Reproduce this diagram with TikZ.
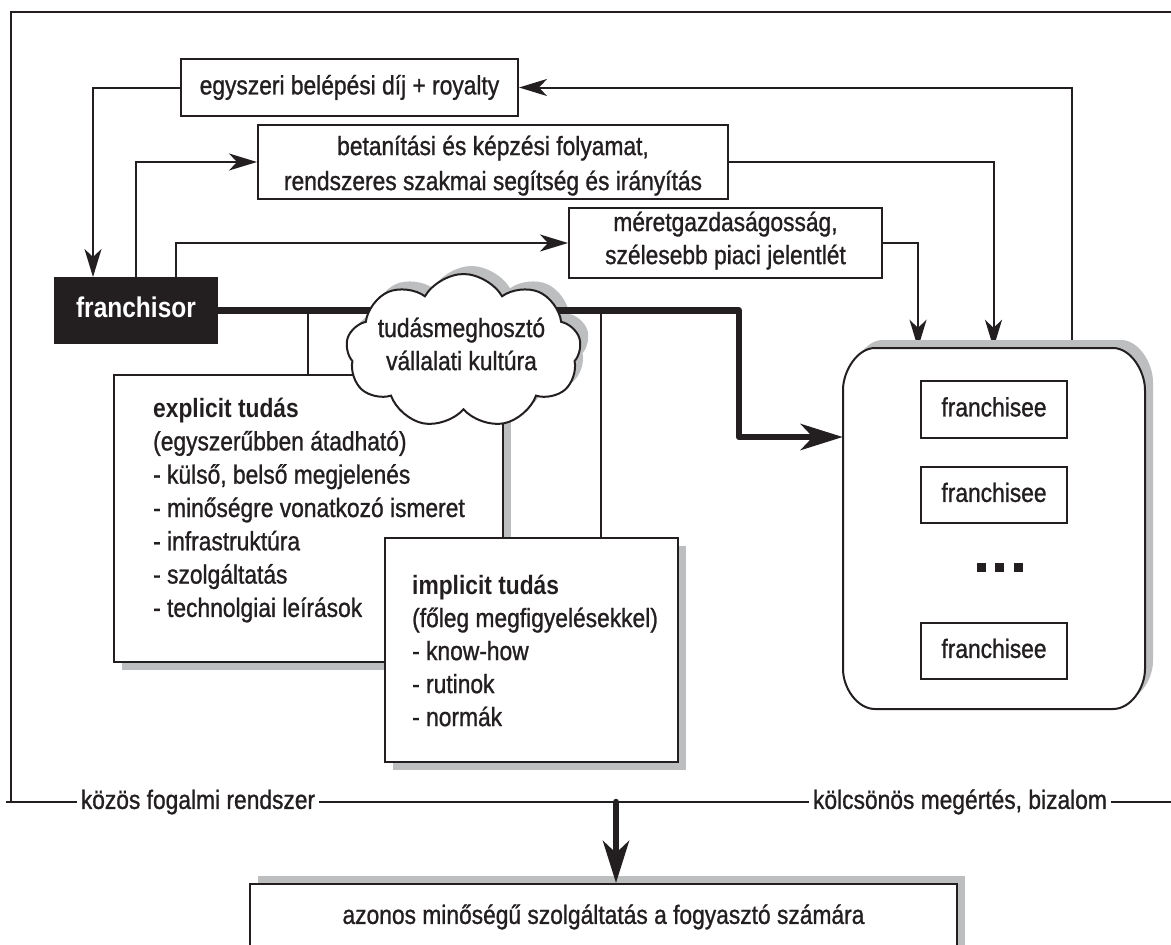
\documentclass[tikz,border=0pt]{standalone}
\usepackage{fontspec}
\setmainfont{Liberation Sans}[FakeStretch=0.86, UprightFeatures={FakeBold=1}]
\usetikzlibrary{arrows.meta,shapes.symbols,shadows,calc}
\definecolor{ink}{HTML}{231F20}
\definecolor{sg}{HTML}{BCBEC0}
\begin{document}
\begin{tikzpicture}[x=1pt,y=-1pt,
  every node/.style={text=ink},
  txt/.style={font=\fontsize{26.5}{33}\selectfont},
  box/.style={draw=ink, line width=2pt, fill=white, inner sep=0pt, txt, text height=19.3pt, text depth=5.5pt},
  lbl/.style={txt, inner xsep=4pt, inner ysep=0pt, text height=19.3pt, text depth=5.5pt},
  ml/.style={inner sep=0pt, align=left, anchor=north west},
  mc/.style={inner sep=0pt, align=center, anchor=north},
  ln/.style={draw=ink, line width=2pt},
  arr/.style={ln, -{Stealth[length=28pt,width=17pt,inset=8pt]}},
  fat/.style={draw=ink, line width=6.5pt, line join=round, -{Stealth[length=42pt,width=26pt,inset=12pt]}},
  shdn/.style={general shadow={fill=sg, shadow xshift=8pt, shadow yshift=-8pt}},
  shup/.style={general shadow={fill=sg, shadow xshift=8pt, shadow yshift=8pt}},
  puff/.style={cloud, cloud puffs=9, cloud puff arc=120, cloud ignores aspect, minimum width=235pt, minimum height=154pt, inner sep=0pt}
]
\useasboundingbox (0,0) rectangle (1171,945);
\clip (0,0) rectangle (1171,945);

% anchor-only node for the franchisee group
\node[draw=none, minimum width=302pt, minimum height=361pt, inner sep=0pt] (rb) at (994,528.5) {};

% outer frame with labels
\coordinate (ftl) at (11,12);
\coordinate (ftr) at (1171,12);
\coordinate (fbl) at (11,802);
\coordinate (fbs) at (6,802);
\coordinate (fbr) at (1171,802);
\node[lbl] (l1) at (198,802) {közös fogalmi rendszer};
\node[lbl] (l2) at (960,802) {kölcsönös megértés, bizalom};
\draw[ln] (ftr) -- (ftl) -- (fbl);
\draw[ln] (fbs) -- (l1.west);
\draw[ln] (l1.east) -- (l2.west);
\draw[ln] (l2.east) -- (fbr);

% top boxes
\node[box, minimum width=337pt, minimum height=57pt] (egy) at (349.5,87.5) {egyszeri belépési díj + royalty};
\node[box, minimum width=470pt, minimum height=74pt] (bet) at (493,162) {};
\node[txt, mc, font=\fontsize{26.5}{35}\selectfont] (bett) at (493,129.4)
  {\rule{0pt}{25.5pt}betanítási és képzési folyamat,\\rendszeres szakmai segítség és irányítás};
\node[box, minimum width=313pt, minimum height=70pt] (mer) at (725.5,243) {};
\node[txt, mc] (mert) at (725.5,205.4)
  {\rule{0pt}{25.5pt}méretgazdaságosság,\\szélesebb piaci jelentlét};
\node[box, fill=ink, text=white, font=\fontsize{28.5}{32}\selectfont\bfseries,
  text height=20.8pt, text depth=6pt, minimum width=162pt, minimum height=65pt] (fr) at (136,310.5) {franchisor};

% thin connectors
\coordinate (x1) at (1072,0);
\coordinate (x2) at (93,0);
\coordinate (x3) at (136,0);
\coordinate (x4) at (176,0);
\coordinate (x5) at (993.5,0);
\coordinate (x6) at (918,0);
\draw[arr] (rb.north -| x1) |- (egy.east);
\draw[arr] (egy.west) -| (x2 |- fr.north);
\draw[arr] (x3 |- fr.north) |- (bet.west);
\draw[arr] (x4 |- fr.north) |- (mer.west);
\draw[arr] (bet.east) -| (x5 |- rb.north);
\draw[arr] (mer.east) -| (x6 |- rb.north);

% cloud shadow, then thick flow
\node[puff, fill=sg] (cls) at (471.5,343) {};
\coordinate (k1) at (739,310.5);
\coordinate (k2) at (739,437);
\draw[fat] (fr.east) -- (k1) -- (k2) -- (k2 -| rb.west);

% explicit knowledge
\node[box, shdn, minimum width=389pt, minimum height=287pt] (ex) at (308.5,518.5) {};
\node[txt, ml, font=\fontsize{26.5}{33.3}\selectfont] (ext) at (153,391.4)
  {\rule{0pt}{25.5pt}\textbf{explicit tudás}\\(egyszerűbben átadható)\\- külső, belső megjelenés\\- minőségre vonatkozó ismeret\\- infrastruktúra\\- szolgáltatás\\- technolgiai leírások};

% implicit knowledge
\node[box, shdn, minimum width=293pt, minimum height=224pt] (im) at (531.5,650) {};
\node[txt, ml] (imt) at (412,568.4)
  {\rule{0pt}{25.5pt}\textbf{implicit tudás}\\(főleg megfigyelésekkel)\\- know-how\\- rutinok\\- normák};

\coordinate (v1) at (308,310.5);
\coordinate (v2) at (601,310.5);
\draw[ln] (v1) -- (v1 |- ex.north);
\draw[ln] (v2) -- (v2 |- im.north);

% cloud
\node[puff, draw=ink, line width=2pt, fill=white] (cl) at (463.5,351) {};
\node[txt, mc] (clt) at (461.5,311.4) {\rule{0pt}{25.5pt}tudásmeghosztó\\vállalati kultúra};

% franchisee group
\fill[sg, shift={(8,-8)}] (875,348) -- (1113,348) .. controls (1130.7,348) and (1145,371) .. (1145,390)
  -- (1145,669) .. controls (1145,688) and (1130.7,709) .. (1113,709) -- (875,709)
  .. controls (857.3,709) and (843,688) .. (843,669) -- (843,390)
  .. controls (843,371) and (857.3,348) .. (875,348) -- cycle;
\draw[ln, fill=white] (875,348) -- (1113,348) .. controls (1130.7,348) and (1145,371) .. (1145,390)
  -- (1145,669) .. controls (1145,688) and (1130.7,709) .. (1113,709) -- (875,709)
  .. controls (857.3,709) and (843,688) .. (843,669) -- (843,390)
  .. controls (843,371) and (857.3,348) .. (875,348) -- cycle;
\node[box, minimum width=146pt, minimum height=57pt] (f1) at (994,409.5) {franchisee};
\node[box, minimum width=146pt, minimum height=56pt] (f2) at (994,495) {franchisee};
\node[box, minimum width=146pt, minimum height=56pt] (f3) at (994,651) {franchisee};
\node[fill=ink, minimum size=9pt, inner sep=0pt] (d1) at (981,567) {};
\node[fill=ink, minimum size=9pt, inner sep=0pt] (d2) at (999.5,567) {};
\node[fill=ink, minimum size=9pt, inner sep=0pt] (d3) at (1018,567) {};

% result
\node[box, shup, minimum width=707pt, minimum height=116pt] (bb) at (603.5,942) {};
\node[txt, inner sep=0pt, text height=19.3pt, text depth=5.5pt] (bbt) at (603.5,917) {azonos minőségű szolgáltatás a fogyasztó számára};
\coordinate (ba) at (616,802);
\draw[fat, line cap=round] (ba) -- (ba |- bb.north);
\end{tikzpicture}
\end{document}
